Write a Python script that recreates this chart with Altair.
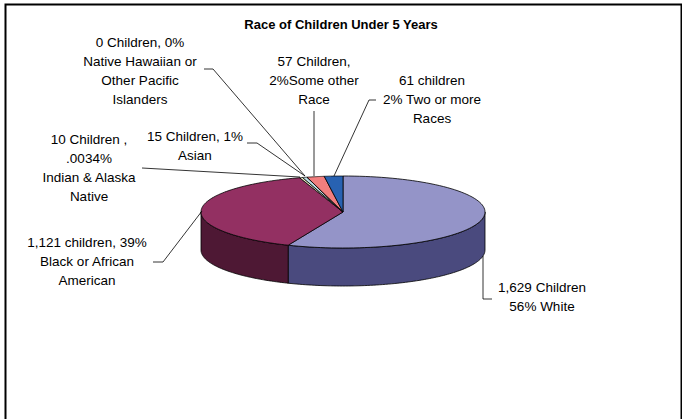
import altair as alt
import pandas as pd

# ---------------- data ----------------
categories = [
    "White",
    "Black or African American",
    "Indian & Alaska Native",
    "Asian",
    "Native Hawaiian or Other Pacific Islanders",
    "Some other Race",
    "Two or more Races",
]
children = [1629, 1121, 10, 15, 0, 57, 61]
label_lines = [
    ["1,629 Children", "56% White"],
    ["1,121 children, 39%", "Black or African", "American"],
    ["10 Children ,", ".0034%", "Indian & Alaska", "Native"],
    ["15 Children, 1%", "Asian"],
    ["0 Children, 0%", "Native Hawaiian or", "Other Pacific", "Islanders"],
    ["57 Children,", "2%Some other", "Race"],
    ["61 children", "2% Two or more", "Races"],
]
title_text = "Race of Children Under 5 Years"

# ---------------- styles / layout ----------------
top_colors = ["#9494C8", "#933062", "#ECECC4", "#BCDDE4", "#660066", "#F27E7E", "#2862B2"]
side_colors = ["#4A4A7E", "#4E1834", "#76765E", "#5E7076", "#330033", "#7A3F3F", "#14315A"]
W, H = 682, 419
CX, CY, RX, RY, DEPTH = 343, 212, 142, 36, 38
N = 90
FONT = "Liberation Sans"
FS = 13.5
LH = 19
# label anchor (center x, first-line center y)
label_pos = [(542, 288), (87, 243), (89, 140), (195, 137), (140, 43), (314, 62), (432, 81)]
# leader polylines
leaders = [
    [(483, 256), (483, 299), (492, 299)],
    [(153, 262), (163, 262), (202, 211)],
    [(142, 168), (300, 177)],
    [(247, 143), (257, 143), (305, 176)],
    [(204, 69), (213, 69), (305, 176)],
    [(314, 111), (314, 176)],
    [(376, 100), (369, 100), (334, 176)],
]

slices = pd.DataFrame({"cat": categories, "value": children, "ord": list(range(len(categories)))})

xs = alt.Scale(domain=[0, W], nice=False, zero=False)
ys = alt.Scale(domain=[0, H], nice=False, zero=False, reverse=True)

base = (
    alt.Chart(slices)
    .transform_joinaggregate(total="sum(value)")
    .transform_window(cum="sum(value)", sort=[alt.SortField("ord")], frame=[None, 0])
    .transform_calculate(a0="2*PI*(datum.cum - datum.value)/datum.total")
    .transform_calculate(a1="2*PI*datum.cum/datum.total")
)

# side walls (front-facing part only)
side = (
    base.transform_calculate(lo="max(datum.a0, PI/2)")
    .transform_calculate(hi="min(datum.a1, 3*PI/2)")
    .transform_filter("datum.hi > datum.lo")
    .transform_calculate(k=f"sequence(0, {2 * N + 3})")
    .transform_flatten(["k"])
    .transform_calculate(
        theta=f"datum.k <= {N} ? datum.lo + (datum.hi-datum.lo)*datum.k/{N} : "
        f"(datum.k <= {2 * N + 1} ? datum.hi - (datum.hi-datum.lo)*(datum.k-{N + 1})/{N} : datum.lo)"
    )
    .transform_calculate(dz=f"(datum.k > {N} && datum.k <= {2 * N + 1}) ? {DEPTH} : 0")
    .transform_calculate(px=f"{CX} + {RX}*sin(datum.theta)")
    .transform_calculate(py=f"{CY} - {RY}*cos(datum.theta) + datum.dz")
    .mark_line(stroke="black", strokeWidth=0.8, strokeJoin="round")
    .encode(
        x=alt.X("px:Q", scale=xs, axis=None),
        y=alt.Y("py:Q", scale=ys, axis=None),
        order="k:Q",
        detail="cat:N",
        fill=alt.Fill("cat:N", scale=alt.Scale(domain=categories, range=side_colors), legend=None),
    )
)

# top faces
top = (
    base.transform_calculate(k=f"sequence(-1, {N + 2})")
    .transform_flatten(["k"])
    .transform_calculate(theta=f"datum.a0 + (datum.a1-datum.a0)*clamp(datum.k, 0, {N})/{N}")
    .transform_calculate(ctr=f"datum.k < 0 || datum.k > {N}")
    .transform_calculate(px=f"datum.ctr ? {CX} : {CX} + {RX}*sin(datum.theta)")
    .transform_calculate(py=f"datum.ctr ? {CY} : {CY} - {RY}*cos(datum.theta)")
    .mark_line(stroke="black", strokeWidth=0.8, strokeJoin="round")
    .encode(
        x=alt.X("px:Q", scale=xs, axis=None),
        y=alt.Y("py:Q", scale=ys, axis=None),
        order="k:Q",
        detail="cat:N",
        fill=alt.Fill("cat:N", scale=alt.Scale(domain=categories, range=top_colors), legend=None),
    )
)

# leader lines
lead_rows = []
for i, pts in enumerate(leaders):
    for j, (x, y) in enumerate(pts):
        lead_rows.append({"cat": categories[i], "j": j, "px": x, "py": y})
lead = (
    alt.Chart(pd.DataFrame(lead_rows))
    .mark_line(stroke="black", strokeWidth=0.8)
    .encode(
        x=alt.X("px:Q", scale=xs, axis=None),
        y=alt.Y("py:Q", scale=ys, axis=None),
        order="j:Q",
        detail="cat:N",
    )
)

# labels (y = first line centre)
lab_rows = []
for i, lines in enumerate(label_lines):
    x, y = label_pos[i]
    lab_rows.append({"t": "\n".join(lines), "px": x, "py": y})
labels = (
    alt.Chart(pd.DataFrame(lab_rows))
    .mark_text(font=FONT, fontSize=FS, lineBreak="\n", lineHeight=LH, align="center", baseline="middle", color="black")
    .encode(
        x=alt.X("px:Q", scale=xs, axis=None),
        y=alt.Y("py:Q", scale=ys, axis=None),
        text="t:N",
    )
)

title = (
    alt.Chart(pd.DataFrame({"t": [title_text]}))
    .mark_text(font=FONT, fontSize=13, fontWeight="bold", align="center", baseline="middle", color="black")
    .encode(x=alt.value(341), y=alt.value(25), text="t:N")
)

frame = (
    alt.Chart(pd.DataFrame({"a": [0]}))
    .mark_rect(fill=None, stroke="black", strokeWidth=2)
    .encode(x=alt.value(5.5), x2=alt.value(681.5), y=alt.value(4.5), y2=alt.value(440))
)

chart = (
    alt.layer(frame, side, top, lead, labels, title)
    .resolve_scale(fill="independent")
    .properties(width=W, height=H, padding=0, autosize=alt.AutoSizeParams(type="none"), background="white")
    .configure_view(stroke=None)
)

chart.save("out.html", embed_options={"renderer": "svg", "actions": False})
